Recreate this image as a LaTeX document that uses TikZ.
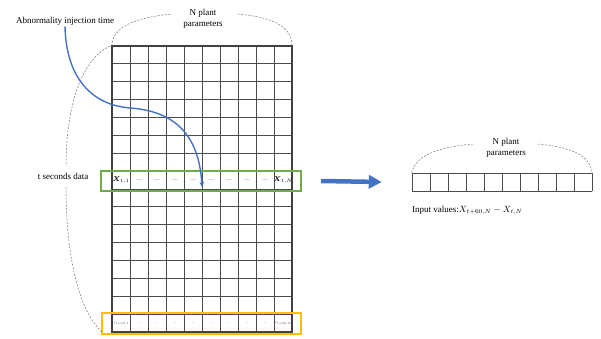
\documentclass[tikz,border=0pt]{standalone}
\usepackage{amsmath}
\usepackage{fontspec}
\setmainfont{Liberation Serif}
\usetikzlibrary{arrows.meta}
\definecolor{blueline}{HTML}{4472C4}
\definecolor{greenbox}{HTML}{70AD47}
\definecolor{goldbox}{HTML}{FFC000}
\tikzset{
  lbl/.style={font=\fontsize{9}{11}\selectfont,align=center,inner sep=1pt},
  celltxt/.style={font=\fontsize{7}{8}\selectfont,inner sep=0pt},
  dashtxt/.style={font=\fontsize{5}{6}\selectfont,inner sep=0pt,text=black!65},
  tinytxt/.style={font=\fontsize{5}{6}\selectfont,scale=0.62,inner sep=0pt,text=black!70},
  gridline/.style={draw=black!70,line width=0.9pt},
  bracearc/.style={draw=black!55,line width=0.5pt,dash pattern=on 2pt off 1.5pt}
}
\begin{document}
\begin{tikzpicture}[x=1pt,y=-1pt]
\useasboundingbox (0,0) rectangle (601,338);
% left table: 10 parameters x 16 rows
\foreach \i in {0,...,10}{
  \draw[gridline] (112+18*\i,46)--(112+18*\i,332);
}
\foreach \j in {0,...,16}{
  \draw[gridline] (112,46+17.875*\j)--(292,46+17.875*\j);
}
\draw[draw=black!75,line width=1.2pt] (112,46) rectangle (292,332);
\coordinate (gtl) at (112,46);
\coordinate (gtr) at (292,46);
\coordinate (gbl) at (102,332);
% highlighted rows
\node (trow) [draw=greenbox,line width=2pt,minimum width=200pt,minimum height=20.5pt,inner sep=0pt] at (201,181) {};
\node (lastrow) [draw=goldbox,line width=2pt,minimum width=199pt,minimum height=20.5pt,inner sep=0pt] at (201.5,323.3) {};
\node[celltxt] (x1) at (121,180.5) {$\boldsymbol{X}_{t,1}$};
\foreach \i in {1,...,8}{
  \node[dashtxt] (d\i) at (121+18*\i,180.5) {---};
}
\node[celltxt] (xN) at (283,180.5) {$\boldsymbol{X}_{t,N}$};
\node[tinytxt] (y1) at (121,323.5) {$x_{t+60,1}$};
\foreach \i in {1,...,8}{
  \node[tinytxt] (e\i) at (121+18*\i,323.5) {--};
}
\node[tinytxt] (yN) at (283,323.5) {$x_{t+60,N}$};
% labels
\node[lbl] (inj) at (65,21) {Abnormality injection time};
\node[lbl] (topN) at (203,18.5) {N plant\\parameters};
\node[lbl] (tsec) at (63,176) {t seconds data};
% braces
\draw[bracearc] (gtl) .. controls (112,25) and (140,17) .. (172,14);
\draw[bracearc] (238,14) .. controls (270,17) and (292,25) .. (gtr);
\draw[bracearc] (110,46) .. controls (80,60) and (66,110) .. (66,166);
\draw[bracearc] (66,187) .. controls (66,260) and (80,312) .. (gbl);
% injection time
\coordinate (inject) at (202,187);
\draw[blueline,line width=1.4pt,-{Stealth[length=5pt,width=4.5pt]}] (inj.south) .. controls (66,78) and (92,105) .. (130,108) .. controls (172,111) and (199,132) .. (inject);
% right table
\node (rrow) [minimum width=180pt,minimum height=18pt,inner sep=0pt] at (502,182) {};
\foreach \i in {0,...,10}{
  \draw[gridline] (412+18*\i,173)--(412+18*\i,191);
}
\draw[gridline] (412,173)--(592,173);
\draw[gridline] (412,191)--(592,191);
\node[lbl] (rightN) at (506,148) {N plant\\parameters};
\draw[bracearc] (rrow.north west) .. controls (415,155) and (440,147) .. (473,144);
\draw[bracearc] (538,144) .. controls (570,147) and (590,155) .. (rrow.north east);
\node[lbl,anchor=west] (inval) at (411,210) {Input values:$X_{t+60,N}-X_{t,N}$};
% big arrow
\draw[blueline,line width=4.5pt,-{Triangle[length=13pt,width=13pt]}] ([xshift=19pt]trow.east) -- ([xshift=-30pt]rrow.west);
\end{tikzpicture}
\end{document}
